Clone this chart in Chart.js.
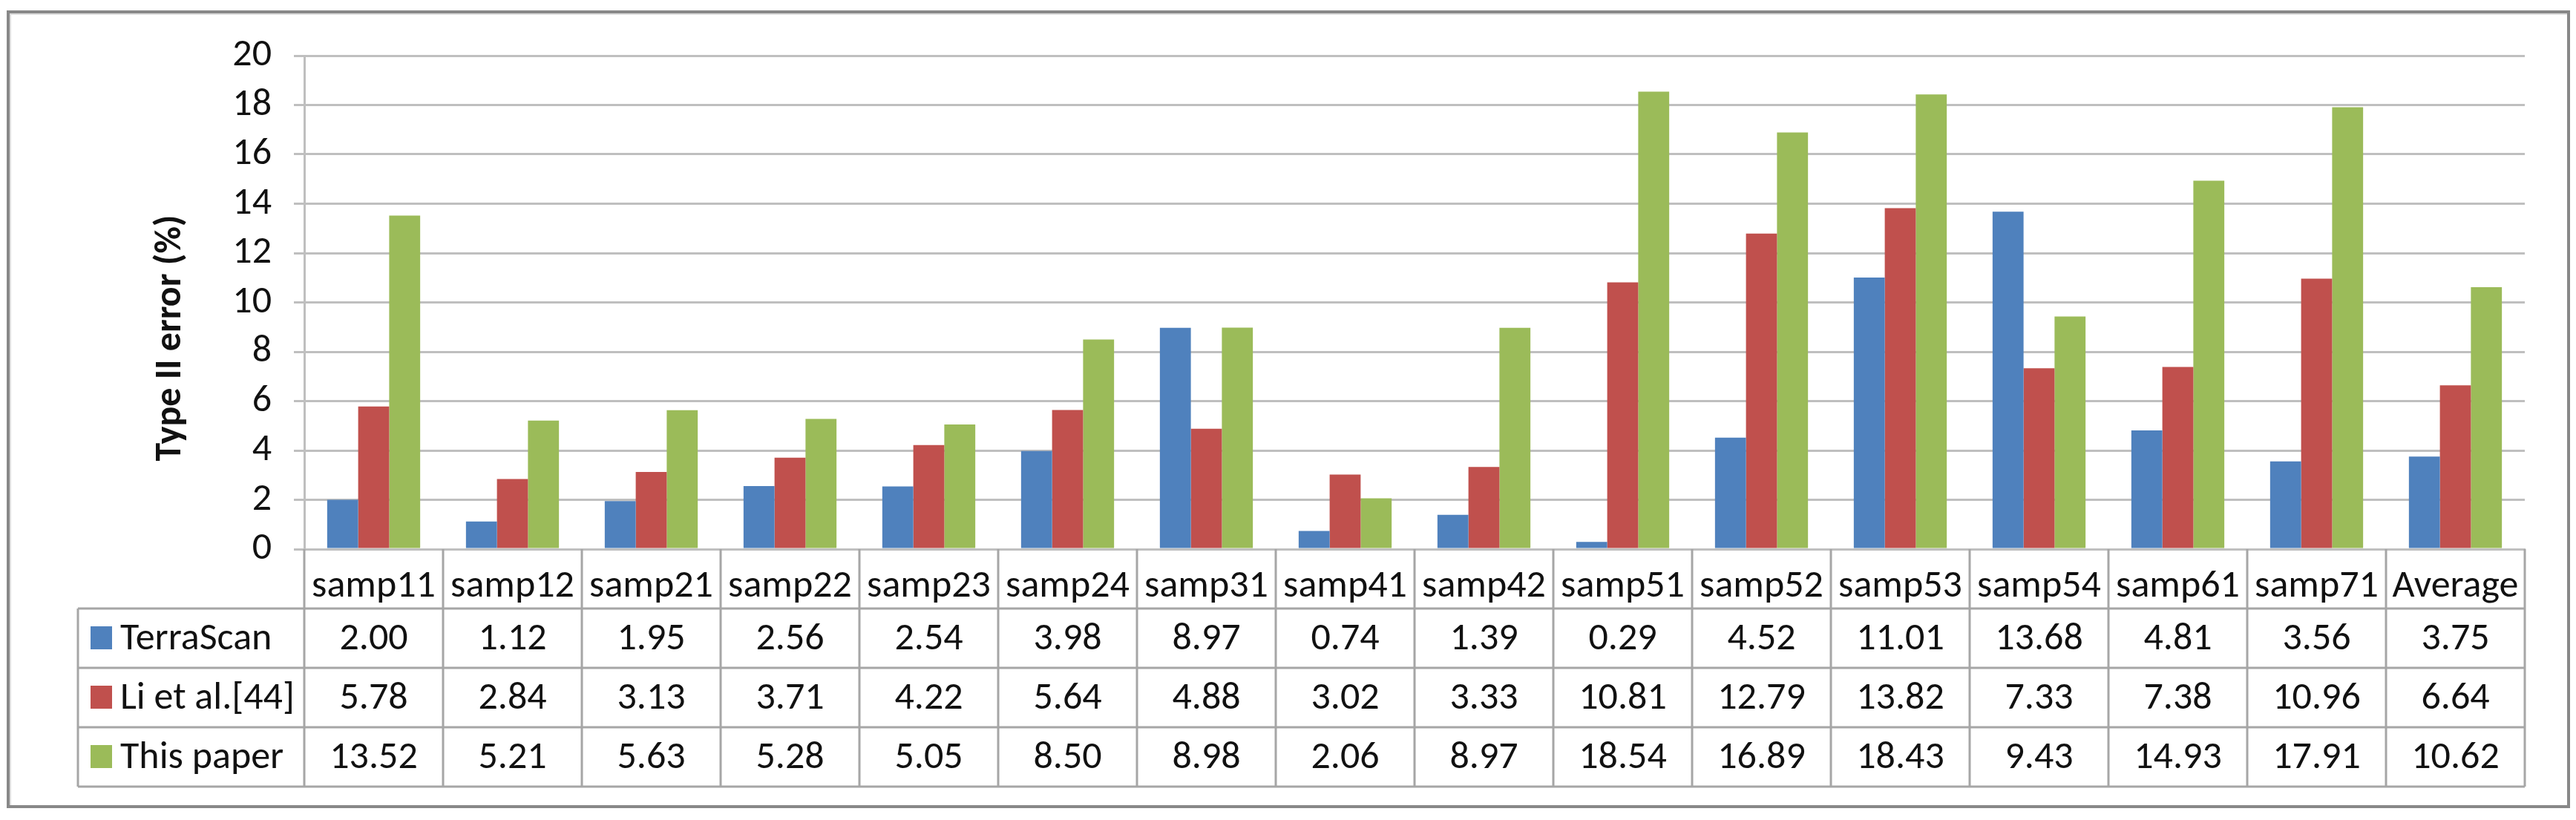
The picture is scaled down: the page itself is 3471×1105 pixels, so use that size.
<!DOCTYPE html>
<html>
<head>
<meta charset="utf-8">
<script src="https://cdn.jsdelivr.net/npm/chart.js@4/dist/chart.umd.min.js"></script>
<style>
  html, body { margin:0; padding:0; background:#fff; }
  #wrap { position:relative; width:3471px; height:1105px; }
  #frame { position:absolute; left:9px; top:14px; width:3446px; height:1067px; border:4px solid #888; box-shadow: inset 2px 2px 0 #ddd; }
  canvas { position:absolute; left:0; top:0; }
</style>
</head>
<body>
<div id="wrap">
  <div id="frame"></div>
  <canvas id="chart" width="3471" height="1105"></canvas>
</div>
<script>
const categories = ['samp11','samp12','samp21','samp22','samp23','samp24','samp31','samp41','samp42','samp51','samp52','samp53','samp54','samp61','samp71','Average'];
const seriesNames = ['TerraScan','Li et al.[44]','This paper'];
const terraScan = [2.00,1.12,1.95,2.56,2.54,3.98,8.97,0.74,1.39,0.29,4.52,11.01,13.68,4.81,3.56,3.75];
const liEtAl    = [5.78,2.84,3.13,3.71,4.22,5.64,4.88,3.02,3.33,10.81,12.79,13.82,7.33,7.38,10.96,6.64];
const thisPaper = [13.52,5.21,5.63,5.28,5.05,8.50,8.98,2.06,8.97,18.54,16.89,18.43,9.43,14.93,17.91,10.62];
const yMin = 0, yMax = 20, yStep = 2;
const yTitle = 'Type II error (%)';

const FONT = "Carlito, Lato, 'Liberation Sans', sans-serif";
const colors = ['#4F81BD','#C0504D','#9BBB59'];
const lineGray = '#A6A6A6';
const rowH = 80;

// data table under the plot, columns follow the x scale
const dataTable = {
  id: 'dataTable',
  afterDraw(chart) {
    const ctx = chart.ctx;
    const x = chart.scales.x;
    const area = chart.chartArea;
    const n = categories.length;
    const cw = (x.right - x.left) / n;
    const top = area.bottom;
    const tableLeft = 105;
    const rows = chart.data.datasets;
    const bottom = top + rowH * (rows.length + 1);

    ctx.save();
    ctx.strokeStyle = lineGray;
    ctx.lineWidth = 3;
    ctx.beginPath();
    for (let i = 0; i <= n; i++) {
      const px = x.left + cw * i;
      ctx.moveTo(px, top); ctx.lineTo(px, bottom);
    }
    ctx.moveTo(tableLeft, top + rowH); ctx.lineTo(tableLeft, bottom);
    for (let r = 1; r <= rows.length + 1; r++) {
      const py = top + rowH * r;
      ctx.moveTo(tableLeft, py); ctx.lineTo(x.right, py);
    }
    ctx.stroke();

    ctx.font = '52px ' + FONT;
    ctx.fillStyle = '#111';
    ctx.textBaseline = 'middle';
    rows.forEach((ds, r) => {
      const cy = top + rowH * (r + 1.5);
      ctx.textAlign = 'center';
      ds.data.forEach((v, i) => {
        ctx.fillText(v.toFixed(2), x.getPixelForValue(i), cy + 2);
      });
      ctx.fillStyle = ds.backgroundColor;
      ctx.fillRect(122, cy - 16, 29, 31);
      ctx.fillStyle = '#111';
      ctx.textAlign = 'left';
      ctx.fillText(ds.label, 162, cy + 2);
    });

    // y axis title
    const ty = (area.top + area.bottom) / 2 + 48;
    ctx.translate(230, ty);
    ctx.rotate(-Math.PI / 2);
    ctx.font = 'bold 50px ' + FONT;
    ctx.textAlign = 'center';
    ctx.fillText(yTitle, 0, 0);
    ctx.restore();
  }
};

new Chart(document.getElementById('chart'), {
  type: 'bar',
  data: {
    labels: categories,
    datasets: [
      { label: seriesNames[0], data: terraScan, backgroundColor: colors[0] },
      { label: seriesNames[1], data: liEtAl, backgroundColor: colors[1] },
      { label: seriesNames[2], data: thisPaper, backgroundColor: colors[2] }
    ]
  },
  options: {
    responsive: false,
    animation: false,
    devicePixelRatio: 1,
    layout: { padding: { left: 0, right: 69, top: 75, bottom: 285 } },
    datasets: { bar: { categoryPercentage: 0.67, barPercentage: 1.0 } },
    plugins: { legend: { display: false }, tooltip: { enabled: false } },
    scales: {
      x: {
        grid: { display: false },
        border: { display: true, color: '#BFBFBF', width: 3 },
        ticks: { color: '#111', font: { family: FONT, size: 52 }, padding: 12, maxRotation: 0, autoSkip: false },
        afterFit(s) { s.height = rowH; }
      },
      y: {
        min: yMin, max: yMax,
        ticks: { stepSize: yStep, color: '#111', font: { family: FONT, size: 52 }, padding: 30 },
        grid: { color: '#BFBFBF', lineWidth: 3, tickLength: 14, tickColor: '#BFBFBF' },
        border: { color: '#BFBFBF', width: 3 },
        afterFit(s) { s.width = 410; }
      }
    }
  },
  plugins: [dataTable]
});
</script>
</body>
</html>
